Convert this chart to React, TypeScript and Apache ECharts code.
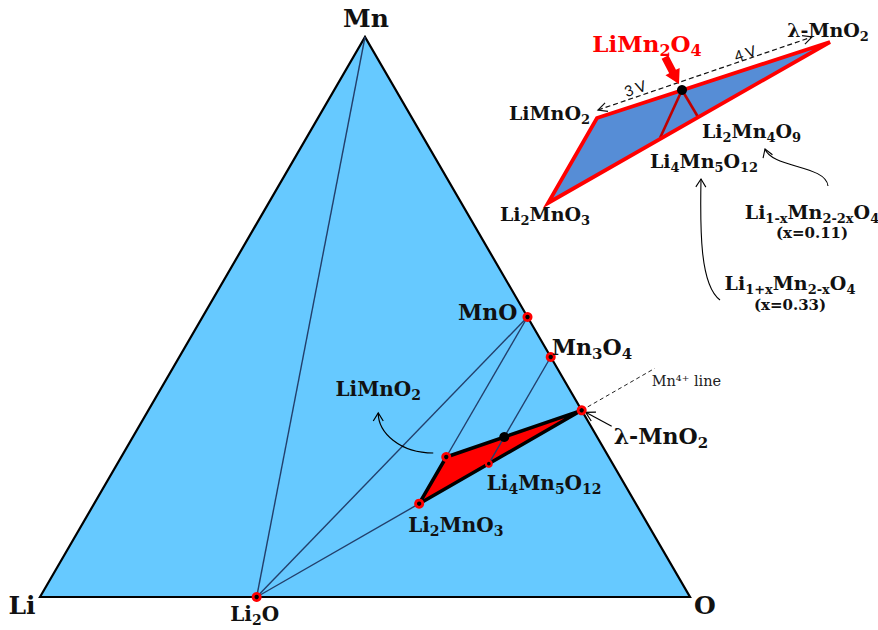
import { useEffect, useRef } from "react";
import * as echarts from "echarts";

const SERIF = "'DejaVu Serif', 'Liberation Serif', serif";
const SANS = "Lato, 'Liberation Sans', sans-serif";

// ---- Phase compositions (atoms per formula unit) ----
const phaseIds = ["Li", "Mn", "O", "Li2O", "MnO", "Mn3O4", "MnO2", "LiMnO2", "Li2MnO3", "Li4Mn5O12", "LiMn2O4"];
const phaseLi = [1, 0, 0, 2, 0, 0, 0, 1, 2, 4, 1];
const phaseMn = [0, 1, 0, 0, 1, 3, 1, 1, 1, 5, 2];
const phaseO = [0, 0, 1, 1, 1, 4, 2, 2, 3, 12, 4];

const triangleCorners = ["Li", "Mn", "O"];
const tieLines: [string, string][] = [
  ["Li2O", "Mn"],
  ["Li2O", "MnO"],
  ["Li2O", "Li2MnO3"],
  ["MnO", "LiMnO2"],
  ["Mn3O4", "Li4Mn5O12"],
];
const redRegion = ["LiMnO2", "MnO2", "Li2MnO3"];
const ringPhases = ["Li2O", "MnO", "Mn3O4", "MnO2", "LiMnO2", "Li2MnO3"];
const smallRingPhases = ["Li4Mn5O12"];
const dotPhases = ["LiMn2O4"];

// main labels
const mainLabelPhases = ["Mn", "Li", "O", "Li2O", "MnO", "Mn3O4", "MnO2", "LiMnO2", "Li4Mn5O12", "Li2MnO3"];
const mainLabelTexts = ["Mn", "Li", "O", "Li_{2}O", "MnO", "Mn_{3}O_{4}", "λ-MnO_{2}", "LiMnO_{2}", "Li_{4}Mn_{5}O_{12}", "Li_{2}MnO_{3}"];

// ---- Inset (enlarged schematic of the red region), schematic units ----
const insetPhases = ["LiMnO2", "MnO2", "Li2MnO3", "LiMn2O4", "Li4Mn5O12", "Li2Mn4O9"];
const insetU = [57, 290, 8, 142, 120, 158];
const insetV = [92, 168, 7, 120, 72, 93];
const insetLabelTexts = ["LiMnO_{2}", "λ-MnO_{2}", "Li_{2}MnO_{3}", "LiMn_{2}O_{4}", "Li_{4}Mn_{5}O_{12}", "Li_{2}Mn_{4}O_{9}"];
const insetRegion = ["LiMnO2", "MnO2", "Li2MnO3"];
const insetInner: [string, string][] = [
  ["LiMn2O4", "Li4Mn5O12"],
  ["LiMn2O4", "Li2Mn4O9"],
];

// annotation texts
const annotationTexts = ["Li_{1-x}Mn_{2-2x}O_{4}", "(x=0.11)", "Li_{1+x}Mn_{2-x}O_{4}", "(x=0.33)"];

// ---- layout / style (not data) ----
const MAIN_LABEL_LAYOUT: Record<string, { dx: number; dy: number; align: string; size: number }> = {
  Mn: { dx: 1, dy: -19, align: "center", size: 25 },
  Li: { dx: -18, dy: 8, align: "center", size: 25 },
  O: { dx: 15, dy: 8, align: "center", size: 25 },
  Li2O: { dx: -2, dy: 17, align: "center", size: 20 },
  MnO: { dx: -10, dy: -5, align: "right", size: 22 },
  Mn3O4: { dx: 1, dy: -10, align: "left", size: 22 },
  MnO2: { dx: 32, dy: 26, align: "left", size: 22 },
  LiMnO2: { dx: -68, dy: -68, align: "center", size: 20 },
  Li4Mn5O12: { dx: -2, dy: 19, align: "left", size: 20 },
  Li2MnO3: { dx: -11, dy: 21, align: "left", size: 20 },
};
const INSET_LABEL_LAYOUT: Record<string, { dx: number; dy: number; align: string; size: number; color: string }> = {
  LiMnO2: { dx: -7, dy: -5, align: "right", size: 19, color: "#111" },
  MnO2: { dx: -2, dy: -12, align: "center", size: 19, color: "#111" },
  Li2MnO3: { dx: -3, dy: 11, align: "center", size: 19, color: "#111" },
  LiMn2O4: { dx: -35, dy: -47, align: "center", size: 23, color: "#ff0000" },
  Li4Mn5O12: { dx: -10, dy: 23, align: "left", size: 19, color: "#111" },
  Li2Mn4O9: { dx: 4, dy: 14, align: "left", size: 19, color: "#111" },
};

const H = Math.sqrt(3) / 2;
function tern(id: string): [number, number] {
  const i = phaseIds.indexOf(id);
  const s = phaseLi[i] + phaseMn[i] + phaseO[i];
  const mn = phaseMn[i] / s;
  const o = phaseO[i] / s;
  return [o + mn / 2, mn * H];
}
function insetPt(id: string): [number, number] {
  const i = insetPhases.indexOf(id);
  return [insetU[i], insetV[i]];
}

function richText(label: string): string {
  let out = "";
  const re = /_\{([^}]*)\}/g;
  let last = 0;
  let m: RegExpExecArray | null;
  while ((m = re.exec(label))) {
    if (m.index > last) out += `{m|${label.slice(last, m.index)}}`;
    out += `{s|${m[1]}}`;
    last = re.lastIndex;
  }
  if (last < label.length) out += `{m|${label.slice(last)}}`;
  return out;
}
function richStyles(size: number, color: string, bold = true) {
  const w = bold ? "bold" : "normal";
  return {
    m: { fontFamily: SERIF, fontWeight: w, fontSize: size, fill: color, lineHeight: Math.round(size * 1.3) },
    s: {
      fontFamily: SERIF,
      fontWeight: w,
      fontSize: Math.round(size * 0.68),
      fill: color,
      lineHeight: Math.round(size * 0.55),
      verticalAlign: "bottom",
    },
  };
}
function textEl(x: number, y: number, text: string, size: number, align = "center", color = "#111", bold = true) {
  return {
    type: "text",
    x,
    y,
    style: {
      text: richText(text),
      rich: richStyles(size, color, bold),
      align,
      verticalAlign: "middle",
      fill: color,
      fontFamily: SERIF,
      fontSize: size,
      fontWeight: bold ? "bold" : "normal",
    },
  };
}
function arrowHead(tip: number[], from: number[], len = 8, half = 4.5, color = "#000", lw = 1.2) {
  const dx = tip[0] - from[0];
  const dy = tip[1] - from[1];
  const L = Math.hypot(dx, dy) || 1;
  const ux = dx / L;
  const uy = dy / L;
  const nx = -uy;
  const ny = ux;
  return {
    type: "polyline",
    shape: {
      points: [
        [tip[0] - ux * len + nx * half, tip[1] - uy * len + ny * half],
        [tip[0], tip[1]],
        [tip[0] - ux * len - nx * half, tip[1] - uy * len - ny * half],
      ],
    },
    style: { stroke: color, fill: null, lineWidth: lw },
  };
}
function add(p: number[], dx: number, dy: number): number[] {
  return [p[0] + dx, p[1] + dy];
}

export default function App() {
  const ref = useRef<HTMLDivElement>(null);
  useEffect(() => {
    document.body.style.margin = "0";
    if (!ref.current) return;
    const chart = echarts.init(ref.current, undefined, { renderer: "svg" });

    const renderMain = (_params: any, api: any) => {
      const P = (id: string) => api.coord(tern(id)) as number[];
      const children: any[] = [];
      children.push({
        type: "polygon",
        shape: { points: triangleCorners.map(P) },
        style: { fill: "#66c9ff", stroke: "#000", lineWidth: 2.2, lineJoin: "miter" },
      });
      children.push({
        type: "polygon",
        shape: { points: redRegion.map(P) },
        style: { fill: "#ff0000", stroke: "#000", lineWidth: 3.5, lineJoin: "round" },
      });
      tieLines.forEach(([a, b]) => {
        const pa = P(a);
        const pb = P(b);
        children.push({
          type: "line",
          shape: { x1: pa[0], y1: pa[1], x2: pb[0], y2: pb[1] },
          style: { stroke: "#233f6b", lineWidth: 1.4 },
        });
      });
      // Mn4+ line: extension of Li2MnO3 -> MnO2 beyond MnO2
      const a = tern("Li2MnO3");
      const b = tern("MnO2");
      const ext = [b[0] + 0.45 * (b[0] - a[0]), b[1] + 0.45 * (b[1] - a[1])];
      const pb = P("MnO2");
      const pe = api.coord(ext);
      children.push({
        type: "line",
        shape: { x1: pb[0], y1: pb[1], x2: pe[0], y2: pe[1] },
        style: { stroke: "#222", lineWidth: 1, lineDash: [4, 3] },
      });
      children.push(textEl(pb[0] + 70, pb[1] - 29, "Mn⁴⁺ line", 14.5, "left", "#222", false));
      // arrow to lambda-MnO2
      const lt = add(pb, 4, 2);
      const lf = add(pb, 30, 16);
      children.push({ type: "line", shape: { x1: lf[0], y1: lf[1], x2: lt[0], y2: lt[1] }, style: { stroke: "#000", lineWidth: 1.2 } });
      children.push(arrowHead(lt, lf, 9, 5));
      // curved arrow from LiMnO2 point to its label
      const pl = P("LiMnO2");
      const s0 = add(pl, -13, -4);
      const c1 = add(pl, -46, -4);
      const c2 = add(pl, -68, -24);
      const e0 = add(pl, -68, -44);
      children.push({
        type: "bezierCurve",
        shape: { x1: s0[0], y1: s0[1], cpx1: c1[0], cpy1: c1[1], cpx2: c2[0], cpy2: c2[1], x2: e0[0], y2: e0[1] },
        style: { stroke: "#000", fill: null, lineWidth: 1.2 },
      });
      children.push(arrowHead(e0, c2, 8, 5));
      // markers
      ringPhases.forEach((id) => {
        const p = P(id);
        children.push({ type: "circle", shape: { cx: p[0], cy: p[1], r: 5 }, style: { fill: "#ff0000" } });
        children.push({ type: "circle", shape: { cx: p[0], cy: p[1], r: 2.2 }, style: { fill: "#000" } });
      });
      smallRingPhases.forEach((id) => {
        const p = P(id);
        children.push({ type: "circle", shape: { cx: p[0], cy: p[1], r: 4 }, style: { fill: "#ff0000" } });
        children.push({ type: "circle", shape: { cx: p[0], cy: p[1], r: 1.8 }, style: { fill: "#000" } });
      });
      dotPhases.forEach((id) => {
        const p = P(id);
        children.push({ type: "circle", shape: { cx: p[0], cy: p[1], r: 5 }, style: { fill: "#000" } });
      });
      // labels
      mainLabelPhases.forEach((id, i) => {
        const p = P(id);
        const L = MAIN_LABEL_LAYOUT[id];
        children.push(textEl(p[0] + L.dx, p[1] + L.dy, mainLabelTexts[i], L.size, L.align));
      });
      return { type: "group", children };
    };

    const renderInset = (_params: any, api: any) => {
      const P = (id: string) => api.coord(insetPt(id)) as number[];
      const children: any[] = [];
      const poly = insetRegion.map(P);
      children.push({ type: "polygon", shape: { points: poly }, style: { fill: "#568dd6" } });
      insetInner.forEach(([a, b]) => {
        const pa = P(a);
        const pb = P(b);
        children.push({
          type: "line",
          shape: { x1: pa[0], y1: pa[1], x2: pb[0], y2: pb[1] },
          style: { stroke: "#c00000", lineWidth: 2.6 },
        });
      });
      children.push({
        type: "polygon",
        shape: { points: poly },
        style: { fill: null, stroke: "#ff0000", lineWidth: 3.8, lineJoin: "miter" },
      });
      const pd = P("LiMn2O4");
      children.push({ type: "circle", shape: { cx: pd[0], cy: pd[1], r: 5 }, style: { fill: "#000" } });
      // dashed double arrow (3 V / 4 V)
      const pL = P("LiMnO2");
      const pM = P("MnO2");
      const t1 = add(pL, 1, -8);
      const t2 = add(pM, -18, -5);
      children.push({
        type: "line",
        shape: { x1: t1[0], y1: t1[1], x2: t2[0], y2: t2[1] },
        style: { stroke: "#111", lineWidth: 1.2, lineDash: [5, 3] },
      });
      children.push(arrowHead(t1, t2, 9, 4.5, "#111", 1.2));
      children.push(arrowHead(t2, t1, 9, 4.5, "#111", 1.2));
      const ang = Math.atan2(-(t2[1] - t1[1]), t2[0] - t1[0]);
      const v3 = add(pL, 38, -30);
      const v4 = add(pM, -85, 11);
      [
        [v3, "3 V"],
        [v4, "4 V"],
      ].forEach(([p, t]: any) => {
        children.push({
          type: "text",
          x: p[0],
          y: p[1],
          rotation: ang,
          style: { text: t, fill: "#111", fontFamily: SANS, fontSize: 15, align: "center", verticalAlign: "middle" },
        });
      });
      // red block arrow pointing at LiMn2O4
      const tip = add(pd, -3, -6);
      const tail = add(pd, -17, -33);
      {
        const dx = tip[0] - tail[0];
        const dy = tip[1] - tail[1];
        const L = Math.hypot(dx, dy);
        const ux = dx / L;
        const uy = dy / L;
        const nx = -uy;
        const ny = ux;
        const hl = 14;
        const hh = 8;
        const sw = 3.8;
        const hx = tip[0] - ux * hl;
        const hy = tip[1] - uy * hl;
        children.push({
          type: "polygon",
          shape: {
            points: [
              [tail[0] + nx * sw, tail[1] + ny * sw],
              [hx + nx * sw, hy + ny * sw],
              [hx + nx * hh, hy + ny * hh],
              [tip[0], tip[1]],
              [hx - nx * hh, hy - ny * hh],
              [hx - nx * sw, hy - ny * sw],
              [tail[0] - nx * sw, tail[1] - ny * sw],
            ],
          },
          style: { fill: "#ff0000" },
        });
      }
      // labels
      insetPhases.forEach((id, i) => {
        const p = P(id);
        const L = INSET_LABEL_LAYOUT[id];
        children.push(textEl(p[0] + L.dx, p[1] + L.dy, insetLabelTexts[i], L.size, L.align, L.color));
      });
      return { type: "group", children };
    };

    const curve = (x1: number, y1: number, cx1: number, cy1: number, cx2: number, cy2: number, x2: number, y2: number) => [
      {
        type: "bezierCurve",
        shape: { x1, y1, cpx1: cx1, cpy1: cy1, cpx2: cx2, cpy2: cy2, x2, y2 },
        style: { stroke: "#000", fill: null, lineWidth: 1.1 },
      },
      arrowHead([x2, y2], [cx2, cy2], 8, 5, "#000", 1.1),
    ];

    const option: any = {
      animation: false,
      backgroundColor: "#ffffff",
      grid: [
        { left: 40, top: 37, width: 650, height: 560 },
        { left: 540, top: 30, width: 300, height: 180 },
      ],
      xAxis: [
        { type: "value", gridIndex: 0, min: 0, max: 1, show: false },
        { type: "value", gridIndex: 1, min: 0, max: 300, show: false },
      ],
      yAxis: [
        { type: "value", gridIndex: 0, min: 0, max: H, show: false },
        { type: "value", gridIndex: 1, min: 0, max: 180, show: false },
      ],
      series: [
        {
          type: "custom",
          name: "ternary",
          coordinateSystem: "cartesian2d",
          xAxisIndex: 0,
          yAxisIndex: 0,
          data: [[0, 0]],
          renderItem: renderMain,
          silent: true,
        },
        {
          type: "custom",
          name: "inset",
          coordinateSystem: "cartesian2d",
          xAxisIndex: 1,
          yAxisIndex: 1,
          data: [[0, 0]],
          renderItem: renderInset,
          silent: true,
        },
      ],
      graphic: [
        ...curve(828, 186, 826, 165, 772, 168, 765, 149),
        ...curve(720, 300, 700, 285, 700, 230, 701, 179),
        textEl(812, 212, annotationTexts[0], 19),
        textEl(812, 233, annotationTexts[1], 15),
        textEl(790, 283, annotationTexts[2], 19),
        textEl(790, 305, annotationTexts[3], 15),
      ],
    };
    chart.setOption(option);
    return () => chart.dispose();
  }, []);
  return <div ref={ref} style={{ width: 878, height: 630 }} />;
}
